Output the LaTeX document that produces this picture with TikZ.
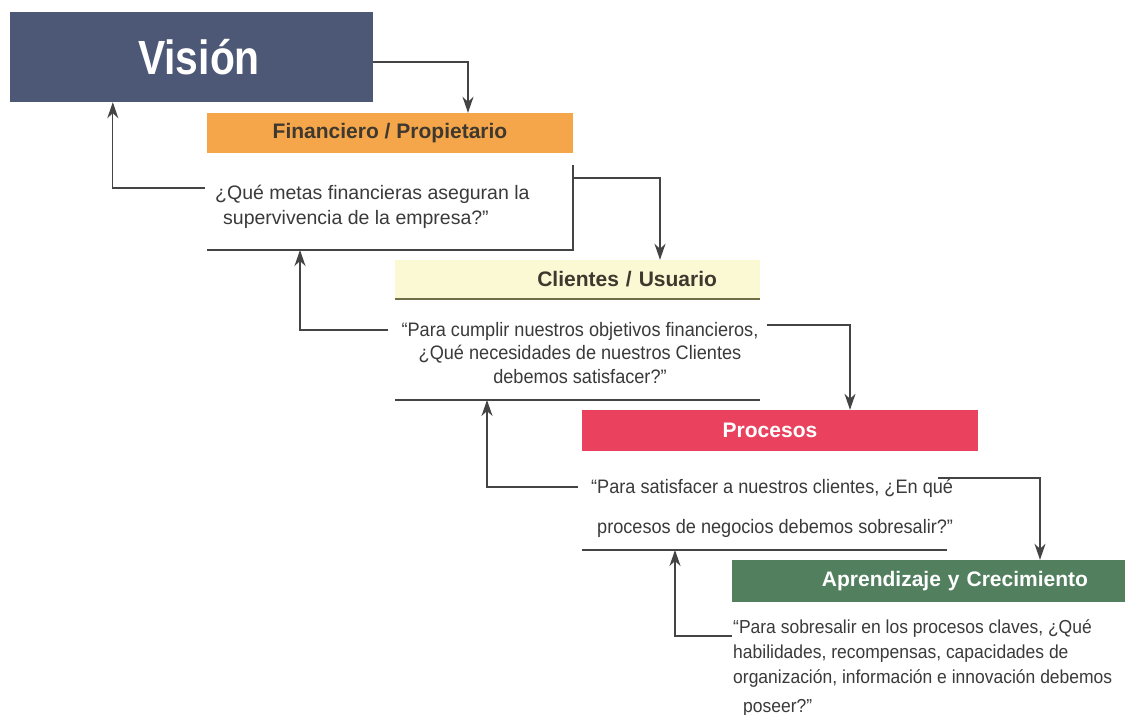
\documentclass[tikz,border=0pt]{standalone}
\usepackage{fontspec}
\setmainfont{Liberation Sans}
\newfontfamily\visionfont[FakeStretch=0.85]{Liberation Sans}
\newfontfamily\narrowfont[FakeStretch=0.93]{Liberation Sans}
\usetikzlibrary{arrows.meta, positioning, calc}

\definecolor{visionblue}{RGB}{76,88,118}
\definecolor{finorange}{RGB}{245,166,75}
\definecolor{cliyellow}{RGB}{250,249,212}
\definecolor{procred}{RGB}{234,66,94}
\definecolor{aprgreen}{RGB}{82,128,94}
\definecolor{hdrtext}{RGB}{62,56,46}
\definecolor{textgray}{RGB}{58,58,58}
\definecolor{linegray}{RGB}{68,68,68}
\definecolor{oliveline}{RGB}{112,110,72}

\begin{document}
\begin{tikzpicture}[
    x=1pt, y=-1pt,
    header/.style={rectangle, inner sep=0pt, font=\fontsize{21}{24}\selectfont\bfseries},
    question/.style={inner sep=0pt, text=textgray},
    rule/.style={draw=linegray, line width=1.2pt},
    arr/.style={-{Stealth[length=16pt, width=11pt, inset=5pt]}, line width=1.3pt, draw=linegray}
]
    \useasboundingbox[fill=white] (0,0) rectangle (1125,715);

    % Headers, stepping down to the right
    \node[header, fill=visionblue, text=white, minimum width=363pt, minimum height=90pt,
          font=\visionfont\fontsize{48}{50}\selectfont\bfseries] (vision) at (191.5,57) {\hspace*{15pt}Visión};
    \node[header, fill=finorange, text=hdrtext, minimum width=366pt, minimum height=40pt] (fin) at (390,133) {Financiero / Propietario};
    \node[header, fill=cliyellow, text=hdrtext, inner xsep=43pt, text width=279pt, align=right,
          minimum height=39pt] (cli) at (577.5,279.5) {Clientes / Usuario};
    \node[header, fill=procred, text=white, minimum width=396pt, minimum height=41pt] (proc) at (780,430.5) {Procesos\hspace*{20pt}};
    \node[header, fill=aprgreen, text=white, inner xsep=37pt, text width=319pt, align=right,
          minimum height=42pt] (apr) at (928.5,581) {Aprendizaje y Crecimiento};
    \draw[draw=oliveline, line width=1.5pt] (cli.south west) -- (cli.south east);

    % Questions under each header (base = last line)
    \node[question, anchor=base west, align=left, font=\fontsize{19.5}{25}\selectfont] (finq) at (215,224)
        {¿Qué metas financieras aseguran la\\\hspace*{8pt}supervivencia de la empresa?”};
    \node[question, anchor=base, align=center, font=\narrowfont\fontsize{19.5}{23.5}\selectfont] (cliq) at (580,383)
        {“Para cumplir nuestros objetivos financieros,\\¿Qué necesidades de nuestros Clientes\\debemos satisfacer?”};
    \node[question, anchor=base west, align=left, font=\narrowfont\fontsize{19.5}{40}\selectfont] (procq) at (591,533)
        {“Para satisfacer a nuestros clientes, ¿En qué\\\hspace*{6pt}procesos de negocios debemos sobresalir?”};
    \node[question, anchor=base west, align=left, font=\narrowfont\fontsize{18.8}{25}\selectfont] (aprq) at (733,712)
        {“Para sobresalir en los procesos claves, ¿Qué\\habilidades, recompensas, capacidades de\\organización, información e innovación debemos\\[4pt]\hspace*{10pt}poseer?”};

    % Rules closing the question blocks
    \coordinate (finrule) at (207,250);
    \coordinate (finruleend) at (573,250);
    \coordinate (clirule) at (395,400);
    \coordinate (cliruleend) at (760,400);
    \coordinate (procrule) at (582,550);
    \coordinate (procruleend) at (947,550);
    \draw[rule] (finrule) -- (finruleend) -- ++(0,-85);
    \draw[rule] (clirule) -- (cliruleend);
    \draw[rule] (procrule) -- (procruleend);

    % Down arrows (to next perspective)
    \draw[arr] ([yshift=-5pt]vision.east) -| ([xshift=78pt]fin.north);
    \draw[arr] ($(finruleend)+(0,-72)$) -| ([xshift=82.5pt]cli.north);
    \draw[arr] ([xshift=8pt, yshift=58pt]cliq.base east) -| ([xshift=70pt]proc.north);
    \draw[arr] ([xshift=-15pt, yshift=55pt]procq.base east) -| ([xshift=111.5pt]apr.north);

    % Up arrows (back to previous perspective)
    \draw[arr] ([xshift=-10pt, yshift=36pt]finq.base west) -| ([xshift=103pt]vision.south west);
    \draw[arr] ([xshift=-13pt, yshift=53pt]cliq.base west) -| ($(finrule)+(93,0)$);
    \draw[arr] ([xshift=-13pt, yshift=46pt]procq.base west) -| ($(clirule)+(92,0)$);
    \draw[arr] ([xshift=-1pt, yshift=76pt]aprq.base west) -| ($(procrule)+(93,0)$);
\end{tikzpicture}
\end{document}
